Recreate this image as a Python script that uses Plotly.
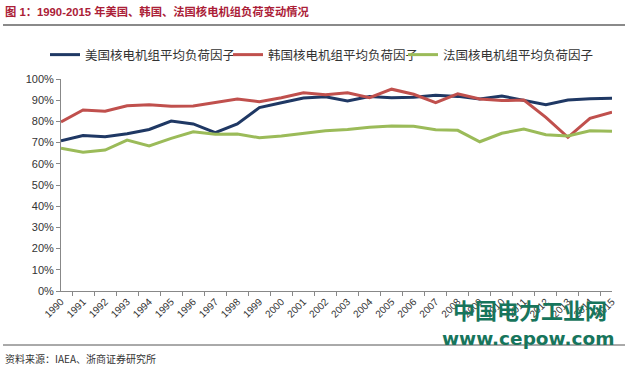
import plotly.graph_objects as go

years = [str(y) for y in range(1990, 2016)]
us = [70.8, 73.3, 72.8, 74.2, 76.2, 80.2, 78.8, 74.7, 78.8, 86.5, 88.8, 91.0, 91.6,
      89.6, 91.7, 91.2, 91.4, 92.3, 91.8, 90.6, 92.0, 90.1, 87.9, 90.1, 90.7, 90.9]
kr = [79.7, 85.4, 84.8, 87.4, 87.9, 87.1, 87.3, 88.8, 90.6, 89.3, 91.2, 93.5, 92.6,
      93.5, 91.2, 95.2, 92.8, 88.8, 93.0, 90.6, 89.8, 90.1, 81.9, 72.5, 81.4, 84.4]
fr = [67.3, 65.4, 66.5, 71.2, 68.4, 72.0, 75.1, 73.9, 74.0, 72.3, 73.1, 74.4, 75.6,
      76.2, 77.2, 77.8, 77.7, 76.1, 75.8, 70.4, 74.4, 76.4, 73.7, 73.1, 75.6, 75.3]
names = ["美国核电机组平均负荷因子", "韩国核电机组平均负荷因子", "法国核电机组平均负荷因子"]
colors = ["#1f3864", "#c0504d", "#9bbb59"]
title_text = "图 1：1990-2015 年美国、韩国、法国核电机组负荷变动情况"
source_text = "资料来源：IAEA、浙商证券研究所"

W, H = 629, 367
L, R, T, B = 61, 17, 79, 76
pw, ph = W - L - R, H - T - B

def px(x):
    return (x - L) / pw

def py(y):
    return (H - B - y) / ph

legend_ids = ["legend", "legend2", "legend3"]
legend_x = [45, 228, 403]

fig = go.Figure()
for name, vals, c, lid in zip(names, [us, kr, fr], colors, legend_ids):
    fig.add_trace(go.Scatter(x=years, y=[v / 100 for v in vals], name=name, mode="lines",
                             line=dict(color=c, width=3), legend=lid))

leg_common = dict(orientation="h", yanchor="middle", itemwidth=30,
                  font=dict(size=12.5, family="Noto Sans CJK SC", color="#333333"),
                  bgcolor="rgba(0,0,0,0)")
legends = {}
for lid, lx in zip(legend_ids, legend_x):
    legends[lid] = dict(leg_common, x=px(lx), y=py(55), xanchor="left")

fig.update_layout(
    width=W, height=H,
    margin=dict(l=L, r=R, t=T, b=B, autoexpand=False),
    paper_bgcolor="white", plot_bgcolor="white",
    font=dict(family="Liberation Sans, Noto Sans CJK SC, sans-serif", color="#333333"),
    showlegend=True,
    xaxis=dict(type="category", tickson="boundaries", ticks="outside", ticklen=4,
               tickcolor="#888888", showline=True, linecolor="#888888", linewidth=1,
               showgrid=False, tickangle=-45, tickfont=dict(size=10, color="#333333")),
    yaxis=dict(range=[0, 1], dtick=0.1, tickformat=".0%", ticks="outside", ticklen=4,
               tickcolor="#888888", showline=True, linecolor="#888888", linewidth=1,
               showgrid=False, zeroline=False, tickfont=dict(size=11, color="#333333")),
    **legends,
)

shapes = [
    dict(type="line", xref="paper", yref="paper", x0=px(3), x1=px(625), y0=py(25), y1=py(25),
         line=dict(color="#8a8a8a", width=2)),
    dict(type="line", xref="paper", yref="paper", x0=px(3), x1=px(625), y0=py(345), y1=py(345),
         line=dict(color="#555555", width=1)),
]
fig.update_layout(shapes=shapes)

annotations = [
    dict(text="<b>" + title_text + "</b>", x=px(3), y=py(11), xref="paper", yref="paper",
         xanchor="left", yanchor="middle", showarrow=False,
         font=dict(size=11.3, color="#ab2037", family="Liberation Sans, Noto Sans CJK SC")),
    dict(text=source_text, x=px(3), y=py(358), xref="paper", yref="paper",
         xanchor="left", yanchor="middle", showarrow=False,
         font=dict(size=10, color="#333333", family="Noto Sans CJK SC")),
    dict(text="<b>中国电力工业网</b>", x=px(530), y=py(309), xref="paper", yref="paper",
         xanchor="center", yanchor="middle", showarrow=False,
         font=dict(size=22, color="#17755c", family="Noto Sans CJK SC")),
    dict(text="<b>www.cepow.com</b>", x=px(528), y=py(338), xref="paper", yref="paper",
         xanchor="center", yanchor="middle", showarrow=False,
         font=dict(size=18.5, color="#17755c", family="DejaVu Sans")),
]
fig.update_layout(annotations=annotations)

fig.write_html("out.html", config={"displayModeBar": False},
               post_script="document.body.style.margin='0';document.body.style.overflow='hidden';")
